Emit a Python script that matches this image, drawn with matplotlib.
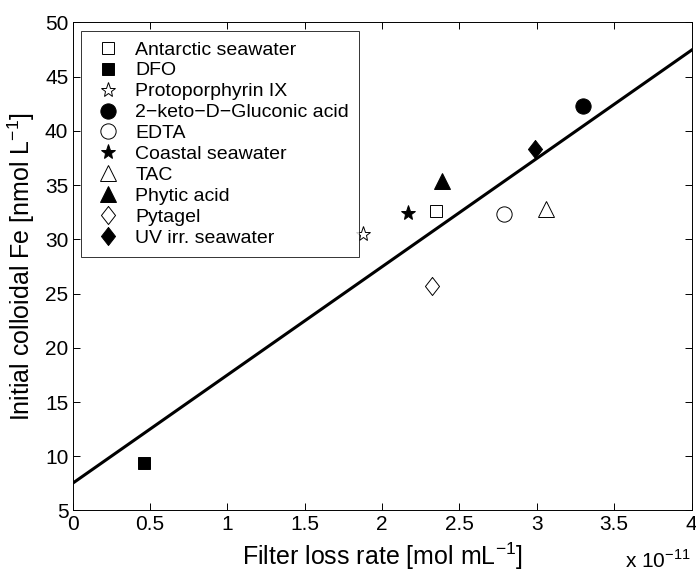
import matplotlib
matplotlib.use("Agg")
import matplotlib.pyplot as plt
import numpy as np

plt.rcParams['font.family'] = ['Liberation Sans', 'DejaVu Sans']
plt.rcParams['mathtext.fontset'] = 'custom'
plt.rcParams['mathtext.rm'] = 'Liberation Sans'

# filter loss rate (x 1e-11 mol/mL) and initial colloidal Fe (nmol/L)
names = ["Antarctic seawater", "DFO", "Protoporphyrin IX", "2\u2212keto\u2212D\u2212Gluconic acid",
         "EDTA", "Coastal seawater", "TAC", "Phytic acid", "Pytagel", "UV irr. seawater"]
loss_rate = [2.35, 0.46, 1.88, 3.30, 2.79, 2.17, 3.06, 2.39, 2.32, 2.99]
colloid_fe = [32.6, 9.4, 30.5, 42.3, 32.3, 32.4, 32.8, 35.4, 25.7, 38.3]
markers = ['s', 's', '*', 'o', 'o', '*', '^', '^', 'D', 'D']
filled = [False, True, False, True, False, True, False, True, False, True]
sizes = [9, 8, 11, 11, 11, 11, 11, 11, 13, 13]

# linear fit line
fit_x = [0, 4]
fit_y = [7.5, 47.45]

# narrow diamond, taller than wide
diamond = [(0, 1), (0.78, 0), (0, -1), (-0.78, 0), (0, 1)]

fig = plt.figure(figsize=(6.96, 5.71), dpi=100)
ax = fig.add_axes([0.1042, 0.106, 0.8894, 0.8546])

for i in range(len(names)):
	fc = 'black' if filled[i] else 'white'
	m = diamond if markers[i] == 'D' else markers[i]
	ax.plot(loss_rate[i], colloid_fe[i], marker=m, ms=sizes[i], mfc=fc, mec='black',
			mew=0.7, linestyle='none', label=names[i])

ax.plot(fit_x, fit_y, color='black', linewidth=2.2)

ax.set_xlim(0, 4)
ax.set_ylim(5, 50)
ax.set_xticks(np.arange(0, 4.01, 0.5))
ax.set_xticklabels(['0', '0.5', '1', '1.5', '2', '2.5', '3', '3.5', '4'])
ax.set_yticks(np.arange(5, 51, 5))
ax.tick_params(direction='in', top=True, right=True, labelsize=15, length=5, width=0.7, pad=3)
for s in ax.spines.values():
	s.set_linewidth(0.7)

ax.set_xlabel("Filter loss rate [mol mL$^{-1}$]", fontsize=18)
ax.xaxis.set_label_coords(0.5, -0.062)
ax.set_ylabel("Initial colloidal Fe [nmol L$^{-1}$]", fontsize=18)
ax.yaxis.set_label_coords(-0.058, 0.5)
fig.text(0.993, 1 - 568 / 571, "x 10$^{-11}$", ha='right', va='baseline', fontsize=15)

leg = ax.legend(loc='upper left', fontsize=14, frameon=True, fancybox=False,
				borderpad=0.5, labelspacing=0.17, handletextpad=0.48, borderaxespad=0.45,
				handlelength=1.8, bbox_to_anchor=(0, 1))
leg.get_frame().set_edgecolor('black')
leg.get_frame().set_linewidth(0.7)

fig.savefig("out.png", dpi=100)
